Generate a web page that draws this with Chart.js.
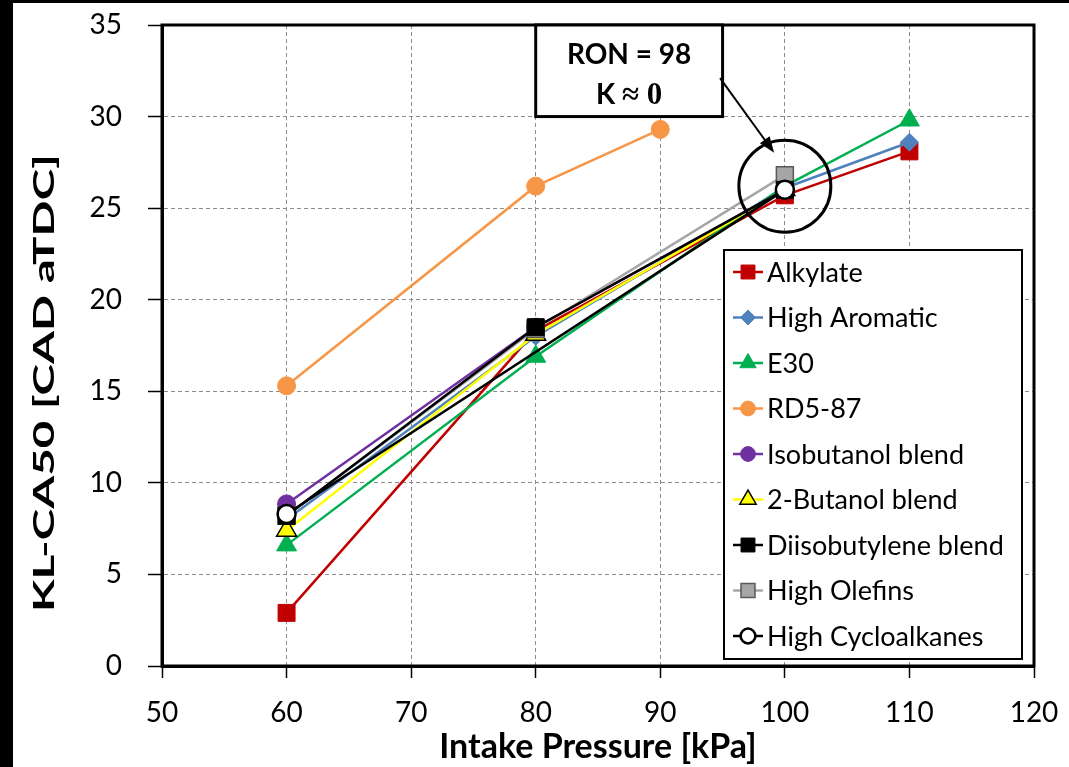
<!DOCTYPE html>
<html>
<head>
<meta charset="utf-8">
<script src="https://cdn.jsdelivr.net/npm/chart.js@4"></script>
<style>
  html, body { margin: 0; padding: 0; background: #fff; }
  #frame { position: relative; width: 1069px; height: 767px; background: #000; overflow: hidden; }
  #chart { position: absolute; left: 13px; top: 3px; background: #fff; }
</style>
</head>
<body>
<div id="frame"><canvas id="chart" width="1056" height="764"></canvas></div>
<script>
// intake pressure [kPa] shared by every series (null = not measured)
const pressure = [60, 80, 90, 100, 110];

const alkylate         = [2.9, 18.3, null, 25.7, 28.1];
const highAromatic     = [8.0, 18.0, null, 26.1, 28.6];
const e30              = [6.6, 16.9, null, 26.2, 29.8];
const rd587            = [15.3, 26.2, 29.3, null, null];
const isobutanol       = [8.85, 18.5, null, 26.0, null];
const butanol2         = [7.4, 18.1, null, 26.0, null];
const diisobutylene    = [8.2, 18.5, null, 26.0, null];
const highOlefins      = [8.2, 18.4, null, 26.8, null];
const highCycloalkanes = [8.3, null, null, 26.0, null];

const xTicks = [50, 60, 70, 80, 90, 100, 110, 120];
const yTicks = [0, 5, 10, 15, 20, 25, 30, 35];

const FONT = 'Lato, "Open Sans", sans-serif';

function series(label, values, line, fill, border, style, radius, borderWidth) {
  return {
    label: label,
    data: pressure.map((p, i) => ({ x: p, y: values[i] })),
    borderColor: line,
    backgroundColor: fill,
    pointBackgroundColor: fill,
    pointBorderColor: border,
    pointBorderWidth: borderWidth,
    pointStyle: style,
    pointRadius: radius,
    pointHoverRadius: radius,
    borderWidth: 2.5,
    spanGaps: true,
    tension: 0
  };
}

const datasets = [
  series('Alkylate', alkylate, '#C00000', '#C00000', '#C00000', 'rect', 12, 1),
  series('High Aromatic', highAromatic, '#4F81BD', '#4F81BD', '#4F81BD', 'rectRot', 9, 1),
  series('E30', e30, '#00B050', '#00B050', '#00B050', 'triangle', 11.5, 1),
  series('RD5-87', rd587, '#F79646', '#F79646', '#F79646', 'circle', 9, 1),
  series('Isobutanol blend', isobutanol, '#7030A0', '#7030A0', '#7030A0', 'circle', 9, 1),
  series('2-Butanol blend', butanol2, '#FFFF00', '#FFFF00', '#000000', 'triangle', 11.5, 1.5),
  series('Diisobutylene blend', diisobutylene, '#000000', '#000000', '#000000', 'rect', 12, 1),
  series('High Olefins', highOlefins, '#A6A6A6', '#A6A6A6', '#595959', 'rect', 12, 1.5),
  series('High Cycloalkanes', highCycloalkanes, '#000000', '#FFFFFF', '#000000', 'circle', 9, 2.5)
];

// stacking: later series above earlier, diisobutylene above olefins
const drawRank = [0, 1, 2, 3, 4, 5, 7, 6, 8];
datasets.forEach((d, i) => { d.order = -drawRank[i]; });

// small marker painter for the legend box
function marker(ctx, style, x, y, r, fill, stroke, lw) {
  ctx.save();
  ctx.fillStyle = fill;
  ctx.strokeStyle = stroke;
  ctx.lineWidth = lw;
  ctx.beginPath();
  if (style === 'rect') {
    const s = r * Math.SQRT1_2;
    ctx.rect(x - s, y - s, 2 * s, 2 * s);
  } else if (style === 'rectRot') {
    ctx.moveTo(x, y - r); ctx.lineTo(x + r, y); ctx.lineTo(x, y + r); ctx.lineTo(x - r, y); ctx.closePath();
  } else if (style === 'triangle') {
    ctx.moveTo(x, y - r);
    ctx.lineTo(x + r * Math.sin(2 * Math.PI / 3), y - r * Math.cos(2 * Math.PI / 3));
    ctx.lineTo(x + r * Math.sin(4 * Math.PI / 3), y - r * Math.cos(4 * Math.PI / 3));
    ctx.closePath();
  } else {
    ctx.arc(x, y, r, 0, Math.PI * 2);
  }
  ctx.fill();
  ctx.stroke();
  ctx.restore();
}

const plotFrame = {
  id: 'plotFrame',
  beforeDatasetsDraw(chart) {
    const { ctx, chartArea: a } = chart;
    ctx.save();
    ctx.strokeStyle = '#000';
    ctx.lineWidth = 3;
    ctx.strokeRect(a.left, a.top, a.right - a.left, a.bottom - a.top);
    ctx.restore();
  }
};

// y-axis title, stretched along its length like the original plot
const yTitle = {
  id: 'yTitle',
  afterDraw(chart) {
    const { ctx } = chart;
    const text = 'KL-CA50 [CAD aTDC]';
    ctx.save();
    ctx.font = 'bold 29px ' + FONT;
    const w = ctx.measureText(text).width;
    ctx.translate(32, 380);
    ctx.rotate(-Math.PI / 2);
    ctx.scale(458 / w, 1);
    ctx.fillStyle = '#000';
    ctx.textAlign = 'center';
    ctx.textBaseline = 'middle';
    ctx.fillText(text, 0, 0);
    ctx.restore();
  }
};

const callout = {
  id: 'callout',
  afterDatasetsDraw(chart) {
    const { ctx, scales: { x, y } } = chart;
    ctx.save();
    // circle round the RON 98 point at 100 kPa
    ctx.strokeStyle = '#000';
    ctx.lineWidth = 3;
    ctx.beginPath();
    ctx.arc(x.getPixelForValue(100), y.getPixelForValue(26.2), 46, 0, Math.PI * 2);
    ctx.stroke();

    // text box
    const bx0 = x.getPixelForValue(80), bx1 = x.getPixelForValue(95);
    const by0 = y.getPixelForValue(35), by1 = y.getPixelForValue(30);
    ctx.fillStyle = '#fff';
    ctx.fillRect(bx0, by0, bx1 - bx0, by1 - by0);
    ctx.lineWidth = 3;
    ctx.strokeRect(bx0, by0, bx1 - bx0, by1 - by0);
    ctx.fillStyle = '#000';
    ctx.textAlign = 'center';
    ctx.textBaseline = 'middle';
    const cx = (bx0 + bx1) / 2;
    ctx.font = 'bold 28px ' + FONT;
    ctx.fillText('RON = 98', cx, by0 + 30);
    ctx.font = 'bold 28px ' + FONT;
    const kW = ctx.measureText('K ').width;
    ctx.font = 'bold 31px "Liberation Serif", serif';
    const restW = ctx.measureText('\u2248 0').width;
    const sx = cx - (kW + restW) / 2;
    ctx.textAlign = 'left';
    ctx.font = 'bold 28px ' + FONT;
    ctx.fillText('K ', sx, by0 + 70);
    ctx.font = 'bold 31px "Liberation Serif", serif';
    ctx.fillText('\u2248 0', sx + kW, by0 + 71);

    // arrow from the box to the circle
    const ax0 = x.getPixelForValue(94.8), ay0 = y.getPixelForValue(32.1);
    const ax1 = x.getPixelForValue(98.95), ay1 = y.getPixelForValue(28.2);
    ctx.lineWidth = 2;
    ctx.beginPath();
    ctx.moveTo(ax0, ay0);
    ctx.lineTo(ax1, ay1);
    ctx.stroke();
    const ang = Math.atan2(ay1 - ay0, ax1 - ax0);
    ctx.beginPath();
    ctx.moveTo(ax1 + 4 * Math.cos(ang), ay1 + 4 * Math.sin(ang));
    ctx.lineTo(ax1 - 12 * Math.cos(ang) + 6 * Math.sin(ang), ay1 - 12 * Math.sin(ang) - 6 * Math.cos(ang));
    ctx.lineTo(ax1 - 12 * Math.cos(ang) - 6 * Math.sin(ang), ay1 - 12 * Math.sin(ang) + 6 * Math.cos(ang));
    ctx.closePath();
    ctx.fill();
    ctx.restore();
  }
};

const boxLegend = {
  id: 'boxLegend',
  afterDraw(chart) {
    const { ctx, chartArea: a } = chart;
    const left = a.right - 310, right = a.right - 12;
    const top = a.top + 225, bottom = a.bottom - 7;
    ctx.save();
    ctx.fillStyle = '#fff';
    ctx.fillRect(left, top, right - left, bottom - top);
    ctx.strokeStyle = '#000';
    ctx.lineWidth = 2;
    ctx.strokeRect(left, top, right - left, bottom - top);
    const rowH = 45.5;
    chart.data.datasets.forEach((d, i) => {
      const cy = top + 22 + i * rowH;
      const mx = left + 24;
      ctx.strokeStyle = d.borderColor;
      ctx.lineWidth = 2.5;
      ctx.beginPath();
      ctx.moveTo(mx - 15, cy);
      ctx.lineTo(mx + 15, cy);
      ctx.stroke();
      marker(ctx, d.pointStyle, mx, cy, d.pointRadius * 0.82, d.pointBackgroundColor, d.pointBorderColor, d.pointBorderWidth);
      ctx.fillStyle = '#000';
      ctx.font = '27px ' + FONT;
      ctx.textAlign = 'left';
      ctx.textBaseline = 'middle';
      ctx.fillText(d.label, mx + 19, cy + 1);
    });
    ctx.restore();
  }
};

new Chart(document.getElementById('chart'), {
  type: 'line',
  data: { datasets: datasets },
  plugins: [plotFrame, callout, boxLegend, yTitle],
  options: {
    responsive: false,
    animation: false,
    layout: { padding: { top: 22, right: 35, left: 0, bottom: 0 } },
    plugins: { legend: { display: false }, tooltip: { enabled: false } },
    scales: {
      x: {
        type: 'linear',
        min: 50,
        max: 120,
        afterBuildTicks: (s) => { s.ticks = xTicks.map(v => ({ value: v })); },
        afterFit: (s) => { s.height = 101; s.paddingLeft = 0; s.paddingRight = 0; },
        ticks: { color: '#000', font: { family: FONT, size: 28 }, padding: 18 },
        grid: { color: '#8c8c8c', lineWidth: 1, tickColor: '#000', tickLength: 12, tickWidth: 1.5 },
        border: { color: '#000', width: 3, dash: [4, 3] },
        title: {
          display: true,
          text: 'Intake Pressure [kPa]',
          color: '#000',
          font: { family: FONT, size: 34, weight: 'bold' },
          padding: { top: -8, bottom: 0 }
        }
      },
      y: {
        min: 0,
        max: 35,
        afterBuildTicks: (s) => { s.ticks = yTicks.map(v => ({ value: v })); },
        afterFit: (s) => { s.width = 149; s.paddingTop = 0; s.paddingBottom = 0; },
        ticks: { color: '#000', font: { family: FONT, size: 28 }, padding: 26 },
        grid: { color: '#8c8c8c', lineWidth: 1, tickColor: '#000', tickLength: 14, tickWidth: 1.5 },
        border: { color: '#000', width: 3, dash: [4, 3] }
      }
    }
  }
});
</script>
</body>
</html>
